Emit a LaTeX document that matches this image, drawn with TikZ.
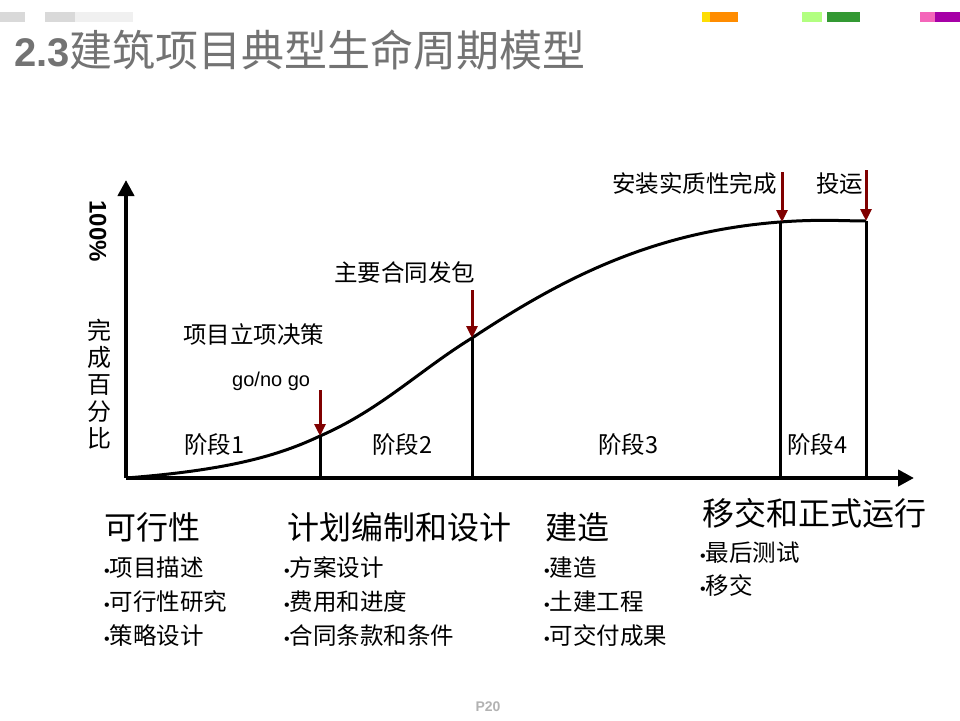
\documentclass[tikz,border=0pt]{standalone}
\usepackage{fontspec}
\setmainfont{Liberation Sans}
\newfontfamily\cjk{Noto Sans CJK SC}
\usetikzlibrary{arrows.meta}
\begin{document}
\begin{tikzpicture}[x=1pt,y=-1pt,
  lbl/.style={font=\cjk\fontsize{23.5}{25}\selectfont,anchor=west,inner sep=0},
  big/.style={font=\cjk\fontsize{32}{35}\selectfont,anchor=west,inner sep=0},
  small/.style={font=\cjk\fontsize{23.5}{25}\selectfont,anchor=west,inner sep=0},
  redarr/.style={draw=red!50!black,line width=3pt,-{Triangle[length=12pt,width=11pt]}},
  vl/.style={line width=3pt}]
\useasboundingbox (0,0) rectangle (960,720);
\fill[gray!30] (0,12) rectangle (25,22);
\fill[gray!30] (45,12) rectangle (75,22);
\fill[gray!12] (75,12) rectangle (133,22);
\fill[yellow!80!orange] (702,12) rectangle (710,22);
\fill[orange!90!yellow] (710,12) rectangle (738,22);
\fill[green!60!yellow!50] (802,12) rectangle (822,22);
\fill[green!50!black!80] (827,12) rectangle (860,22);
\fill[magenta!60] (920,12) rectangle (935,22);
\fill[violet!70!magenta] (935,12) rectangle (960,22);
\node[anchor=west,inner sep=0,text=gray!90!black] (title) at (14,50)
  {\fontsize{40}{44}\selectfont\bfseries 2.3\cjk\mdseries\fontsize{43}{46}\selectfont 建筑项目典型生命周期模型};
\coordinate (o) at (126,478);
\coordinate (ytop) at (126,180);
\coordinate (xend) at (914,478);
\draw[line width=4pt,-{Triangle[length=16pt,width=16pt]}] (o) -- (ytop);
\draw[line width=4pt,-{Triangle[length=16pt,width=16pt]}] (o) -- (xend);
\coordinate (p1) at (320,436);
\coordinate (p2) at (472,338);
\coordinate (p3) at (780,222);
\coordinate (p4) at (866,221);
\draw[line width=3pt] (o) .. controls (230,470) and (280,455) .. (p1)
  .. controls (380,410) and (420,370) .. (p2)
  .. controls (560,280) and (650,232) .. (p3)
  .. controls (820,219) and (845,221) .. (p4);
\foreach \p/\x in {p1/320,p2/472,p3/780,p4/866}{\coordinate (b\p) at (\x,478); \draw[vl] (\p) -- (b\p);}
\coordinate (a1) at (320,390); \coordinate (a2) at (472,290);
\coordinate (a3) at (782,172); \coordinate (a4) at (866,170);
\draw[redarr] (a1) -- (p1);
\draw[redarr] (a2) -- (p2);
\draw[redarr] (a3) -- ([xshift=2pt]p3);
\draw[redarr] (a4) -- (p4);
\node[rotate=-90,font=\bfseries\fontsize{24}{26}\selectfont,inner sep=0] (pct) at (98,231) {100\%};
\node[font=\cjk\fontsize{24}{27}\selectfont,align=center,inner sep=0] (ylab) at (99,384) {完\\成\\百\\分\\比};
\node[small] (n1) at (183,335) {项目立项决策};
\node[anchor=west,inner sep=0,font=\fontsize{20}{22}\selectfont] (n2) at (232,381) {go/no go};
\node[small] (n3) at (334,273) {主要合同发包};
\node[small] (n4) at (612,184) {安装实质性完成};
\node[small] (n5) at (816,184) {投运};
\node[lbl] (s1) at (184,445) {阶段1};
\node[lbl] (s2) at (372,445) {阶段2};
\node[lbl] (s3) at (598,445) {阶段3};
\node[lbl] (s4) at (787,445) {阶段4};
\node[big] (c1) at (104,527) {可行性};
\node[big] (c2) at (287,527) {计划编制和设计};
\node[big] (c3) at (545,527) {建造};
\node[big] (c4) at (702,513) {移交和正式运行};
\foreach \n/\x/\y/\t in {d1/104/568/项目描述,d2/104/602/可行性研究,d3/104/636/策略设计,
  e1/284/568/方案设计,e2/284/602/费用和进度,e3/284/636/合同条款和条件,
  f1/544/568/建造,f2/544/602/土建工程,f3/544/636/可交付成果,
  g1/700/553/最后测试,g2/700/586/移交}
  \node[small] (\n) at (\x,\y) {{\rmfamily\fontsize{16}{18}\selectfont•}\t};
\node[text=gray!60,font=\bfseries\fontsize{14}{16}\selectfont] (pg) at (488,707) {P20};
\end{tikzpicture}
\end{document}
